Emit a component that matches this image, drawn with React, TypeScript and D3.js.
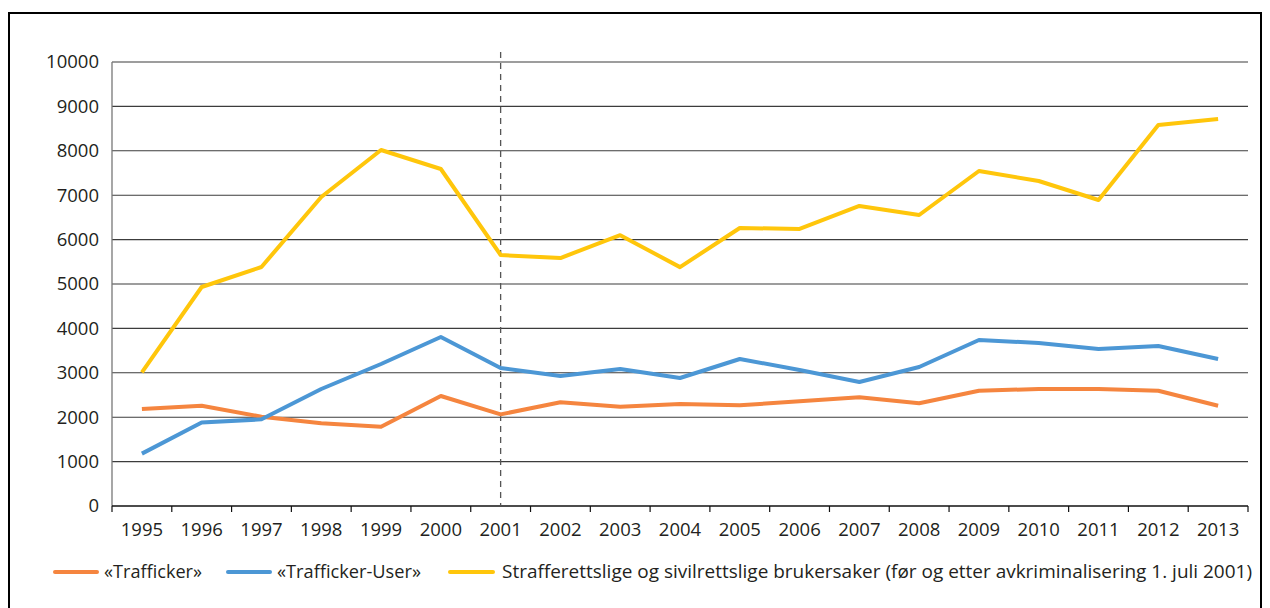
import React from "react";
import * as d3 from "d3";

const years = ["1995","1996","1997","1998","1999","2000","2001","2002","2003","2004","2005","2006","2007","2008","2009","2010","2011","2012","2013"];
const trafficker = [2185,2259,2011,1862,1786,2477,2064,2335,2237,2297,2268,2358,2448,2313,2597,2635,2635,2597,2259];
const traffickerUser = [1180,1880,1952,2635,3198,3806,3108,2928,3085,2883,3311,3063,2793,3131,3739,3671,3536,3604,3311];
const brukersaker = [3010,4932,5383,6960,8018,7590,5653,5585,6100,5380,6261,6239,6757,6554,7545,7320,6892,8581,8716];
const yTicks = [0,1000,2000,3000,4000,5000,6000,7000,8000,9000,10000];
const seriesNames = ["«Trafficker»","«Trafficker-User»","Strafferettslige og sivilrettslige brukersaker (før og etter avkriminalisering 1. juli 2001)"];
const seriesColors = ["#F5853F","#4C97D5","#FFC60B"];
const markerYear = "2001";

export default function App() {
  const left = 112, right = 1248, top = 62, bottom = 506;
  const x = d3.scaleBand<string>().domain(years).range([left, right]).padding(0);
  const y = d3.scaleLinear().domain([0, 10000]).range([bottom, top]);
  const cx = (yr: string) => (x(yr) as number) + x.bandwidth() / 2;
  const line = d3.line<number>().x((_, i) => cx(years[i])).y((v) => y(v));
  const series = [trafficker, traffickerUser, brukersaker];
  const font = "'Open Sans', sans-serif";
  const textColor = "#231f20";
  const legend = [
    { x1: 55, x2: 97, tx: 104, tl: 98 },
    { x1: 228, x2: 270, tx: 277, tl: 144 },
    { x1: 450, x2: 493, tx: 502, tl: 750 },
  ];
  const boundaries = years.map((yr) => x(yr) as number).concat([right]);
  return (
    <svg width={1270} height={608} style={{ position: "absolute", left: 0, top: 0, background: "#fff" }}>
      <rect x={9} y={13} width={1252} height={610} fill="none" stroke="#000" strokeWidth={2} />
      {yTicks.filter((t) => t > 0).map((t) => (
        <line key={t} x1={left} x2={right} y1={y(t)} y2={y(t)} stroke="#3c3c3c" strokeWidth={1.1} />
      ))}
      <line x1={left} x2={left} y1={top} y2={bottom} stroke="#777" strokeWidth={1.3} />
      <line x1={left} x2={right} y1={bottom} y2={bottom} stroke="#111" strokeWidth={1.3} />
      {boundaries.map((b, i) => (
        <line key={i} x1={b} x2={b} y1={bottom} y2={bottom + 6} stroke="#111" strokeWidth={1.2} />
      ))}
      {yTicks.map((t) => (
        <text key={t} x={99} y={y(t)} dy="0.35em" textAnchor="end" fontFamily={font} fontSize={18.5} fill={textColor}>{t}</text>
      ))}
      {years.map((yr) => (
        <text key={yr} x={cx(yr)} y={536} textAnchor="middle" fontFamily={font} fontSize={18.5} fill={textColor}>{yr}</text>
      ))}
      <line x1={cx(markerYear)} x2={cx(markerYear)} y1={52} y2={bottom} stroke="#555" strokeWidth={1.3} strokeDasharray="6,5" />
      {series.map((s, i) => (
        <path key={i} d={line(s) || ""} fill="none" stroke={seriesColors[i]} strokeWidth={4} strokeLinejoin="round" />
      ))}
      {legend.map((l, i) => (
        <g key={i}>
          <line x1={l.x1} x2={l.x2} y1={572} y2={572} stroke={seriesColors[i]} strokeWidth={4} strokeLinecap="round" />
          <text x={l.tx} y={578} fontFamily={font} fontSize={18.5} fill={textColor} textLength={l.tl} lengthAdjust="spacingAndGlyphs">{seriesNames[i]}</text>
        </g>
      ))}
    </svg>
  );
}
